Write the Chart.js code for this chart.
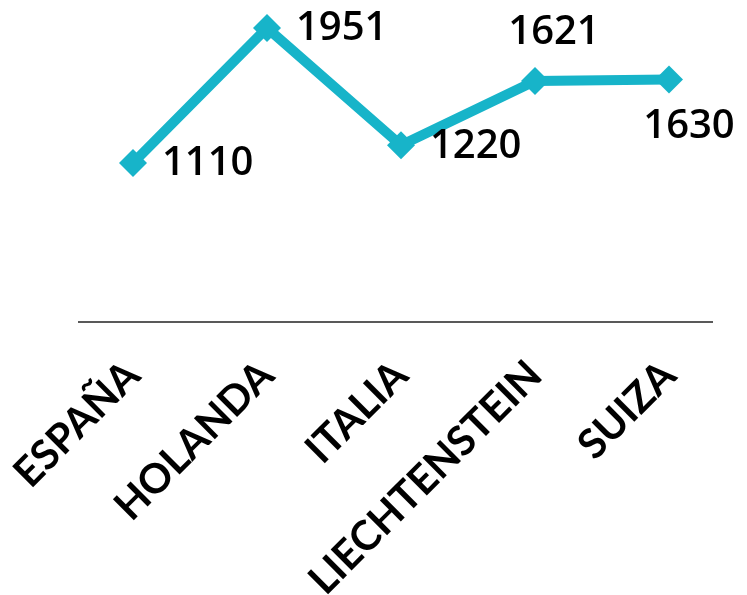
<!DOCTYPE html>
<html>
<head>
<meta charset="utf-8">
<script src="https://cdn.jsdelivr.net/npm/chart.js@4"></script>
<style>
  html, body { margin: 0; padding: 0; background: #fff; }
  #wrap { width: 747px; height: 595px; }
</style>
</head>
<body>
<div id="wrap"><canvas id="chart" width="747" height="595"></canvas></div>
<script>
// data
var paises = ["ESPAÑA", "HOLANDA", "ITALIA", "LIECHTENSTEIN", "SUIZA"];
var valores = [1110, 1951, 1220, 1621, 1630];
// where each value label sits relative to its point
var posEtiqueta = ["right", "right", "right", "above", "below"];

var cyan = "#17b4c9";

// value labels next to the points
var etiquetas = {
    id: "etiquetas",
    afterDatasetsDraw: function(chart) {
        var ctx = chart.ctx;
        var meta = chart.getDatasetMeta(0);
        ctx.save();
        ctx.font = "600 40px 'Open Sans'";
        ctx.fillStyle = "#000";
        ctx.textBaseline = "middle";
        meta.data.forEach(function(pt, i) {
            var txt = String(valores[i]);
            var pos = posEtiqueta[i];
            if (pos === "right") {
                ctx.textAlign = "left";
                ctx.fillText(txt, pt.x + 29, pt.y + 1);
            } else if (pos === "above") {
                ctx.textAlign = "center";
                ctx.fillText(txt, pt.x + 19, pt.y - 48);
            } else {
                ctx.textAlign = "center";
                ctx.fillText(txt, pt.x + 20, pt.y + 47);
            }
        });
        ctx.restore();
    }
};

// thin axis line under the plot
var ejeX = {
    id: "ejeX",
    afterDraw: function(chart) {
        var a = chart.chartArea;
        var ctx = chart.ctx;
        ctx.save();
        ctx.strokeStyle = "#595959";
        ctx.lineWidth = 2;
        ctx.beginPath();
        ctx.moveTo(a.left + 12, a.bottom);
        ctx.lineTo(a.right - 23, a.bottom);
        ctx.stroke();
        ctx.restore();
    }
};

new Chart(document.getElementById("chart"), {
    type: "line",
    data: {
        labels: paises,
        datasets: [{
            data: valores,
            borderColor: cyan,
            backgroundColor: cyan,
            borderWidth: 10,
            pointStyle: "rectRot",
            pointRadius: 14,
            pointBorderWidth: 0,
            tension: 0,
            clip: false
        }]
    },
    options: {
        responsive: false,
        animation: false,
        layout: { autoPadding: false, padding: { left: 66, right: 11, top: 0, bottom: 0 } },
        plugins: {
            legend: { display: false },
            tooltip: { enabled: false }
        },
        scales: {
            x: {
                offset: true,
                grid: { display: false },
                border: { display: false },
                ticks: {
                    color: "#000",
                    font: { family: "Lato", size: 41, weight: "bold" },
                    minRotation: 45,
                    maxRotation: 45,
                    padding: 21
                },
                afterFit: function(scale) {
                    scale.height = 273;
                    scale.paddingLeft = 0;
                    scale.paddingRight = 0;
                    scale.paddingTop = 0;
                    scale.paddingBottom = 0;
                }
            },
            y: {
                display: false,
                min: 119,
                max: 2125
            }
        }
    },
    plugins: [etiquetas, ejeX]
});
</script>
</body>
</html>
